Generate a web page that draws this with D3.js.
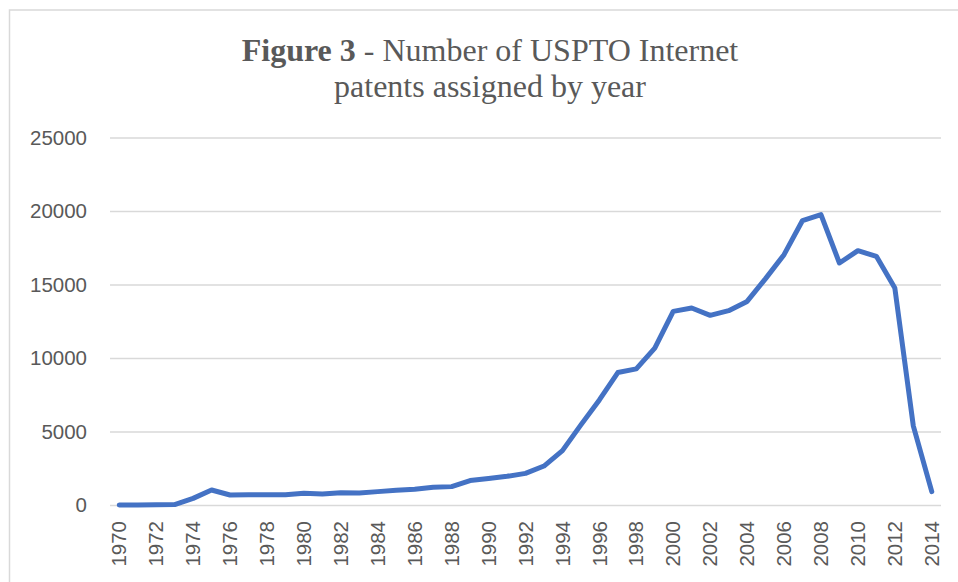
<!DOCTYPE html>
<html lang="en">
<head>
    <meta charset="utf-8">
    <title>Figure 3</title>
    <script type="text/javascript" src="https://cdn.jsdelivr.net/npm/d3@7"></script>
    <style>
        body {
            margin: 0;
            background: white;
        }
        .title {
            font-family: "Liberation Serif", "Times New Roman", serif;
            font-size: 32px;
            fill: #595959;
        }
        .tick text {
            font-family: "Liberation Sans", Arial, sans-serif;
            font-size: 20.5px;
            fill: #595959;
        }
    </style>
</head>
<body>
<div id="chart"></div>
<script type="text/javascript">
    const width = 958;
    const height = 582;

    // years and patents per year
    const years = d3.range(1970, 2015);
    const patents = [
        0, 5, 10, 30, 450, 1020, 680, 700, 700, 700,
        800, 750, 840, 820, 910, 1000, 1070, 1200, 1250, 1660,
        1800, 1950, 2150, 2650, 3700, 5450, 7150, 9010, 9260, 10670,
        13170, 13400, 12900, 13220, 13850, 15400, 17030, 19350, 19750, 16460,
        17300, 16920, 14760, 5380, 910
    ];
    const yTicks = [0, 5000, 10000, 15000, 20000, 25000];
    const xTickYears = years.filter(y => y % 2 === 0);

    const plotLeft = 110, plotRight = 941;
    const plotTop = 137.5, plotBottom = 505;

    const svg = d3.select("#chart")
        .append("svg")
        .attr("width", width)
        .attr("height", height);

    // chart border
    svg.append("rect")
        .attr("x", 9.5)
        .attr("y", 10)
        .attr("width", 1000)
        .attr("height", 1000)
        .attr("fill", "none")
        .attr("stroke", "#d9d9d9")
        .attr("stroke-width", 1.5);

    const title = svg.append("text")
        .attr("class", "title")
        .attr("text-anchor", "middle");
    const line1 = title.append("tspan")
        .attr("x", 490)
        .attr("y", 61);
    line1.append("tspan").attr("font-weight", "bold").text("Figure 3");
    line1.append("tspan").text(" - Number of USPTO Internet");
    title.append("tspan")
        .attr("x", 490)
        .attr("y", 97)
        .text("patents assigned by year");

    const xScale = d3.scaleBand()
        .domain(years)
        .range([plotLeft, plotRight]);

    const yScale = d3.scaleLinear()
        .domain([0, 25000])
        .range([plotBottom, plotTop]);

    // gridlines + y labels
    svg.append("g")
        .attr("transform", `translate(${plotLeft},0)`)
        .call(d3.axisLeft(yScale)
            .tickValues(yTicks)
            .tickFormat(d3.format("d"))
            .tickSize(-(plotRight - plotLeft))
            .tickPadding(23))
        .call(g => g.select(".domain").remove())
        .call(g => g.selectAll(".tick line")
            .attr("stroke", "#d9d9d9")
            .attr("stroke-width", 1.5));

    // x labels
    svg.append("g")
        .attr("transform", `translate(0,${plotBottom})`)
        .call(d3.axisBottom(xScale)
            .tickValues(xTickYears)
            .tickSize(0))
        .call(g => g.select(".domain").remove())
        .call(g => g.selectAll(".tick text")
            .attr("transform", "rotate(-90)")
            .attr("text-anchor", "end")
            .attr("x", -16)
            .attr("y", 0)
            .attr("dy", "0.35em"));

    const line = d3.line()
        .x((d, i) => xScale(years[i]) + xScale.bandwidth() / 2)
        .y(d => yScale(d));

    svg.append("path")
        .datum(patents)
        .attr("d", line)
        .attr("fill", "none")
        .attr("stroke", "#4472C4")
        .attr("stroke-width", 5)
        .attr("stroke-linejoin", "round")
        .attr("stroke-linecap", "round");
</script>
</body>
</html>
